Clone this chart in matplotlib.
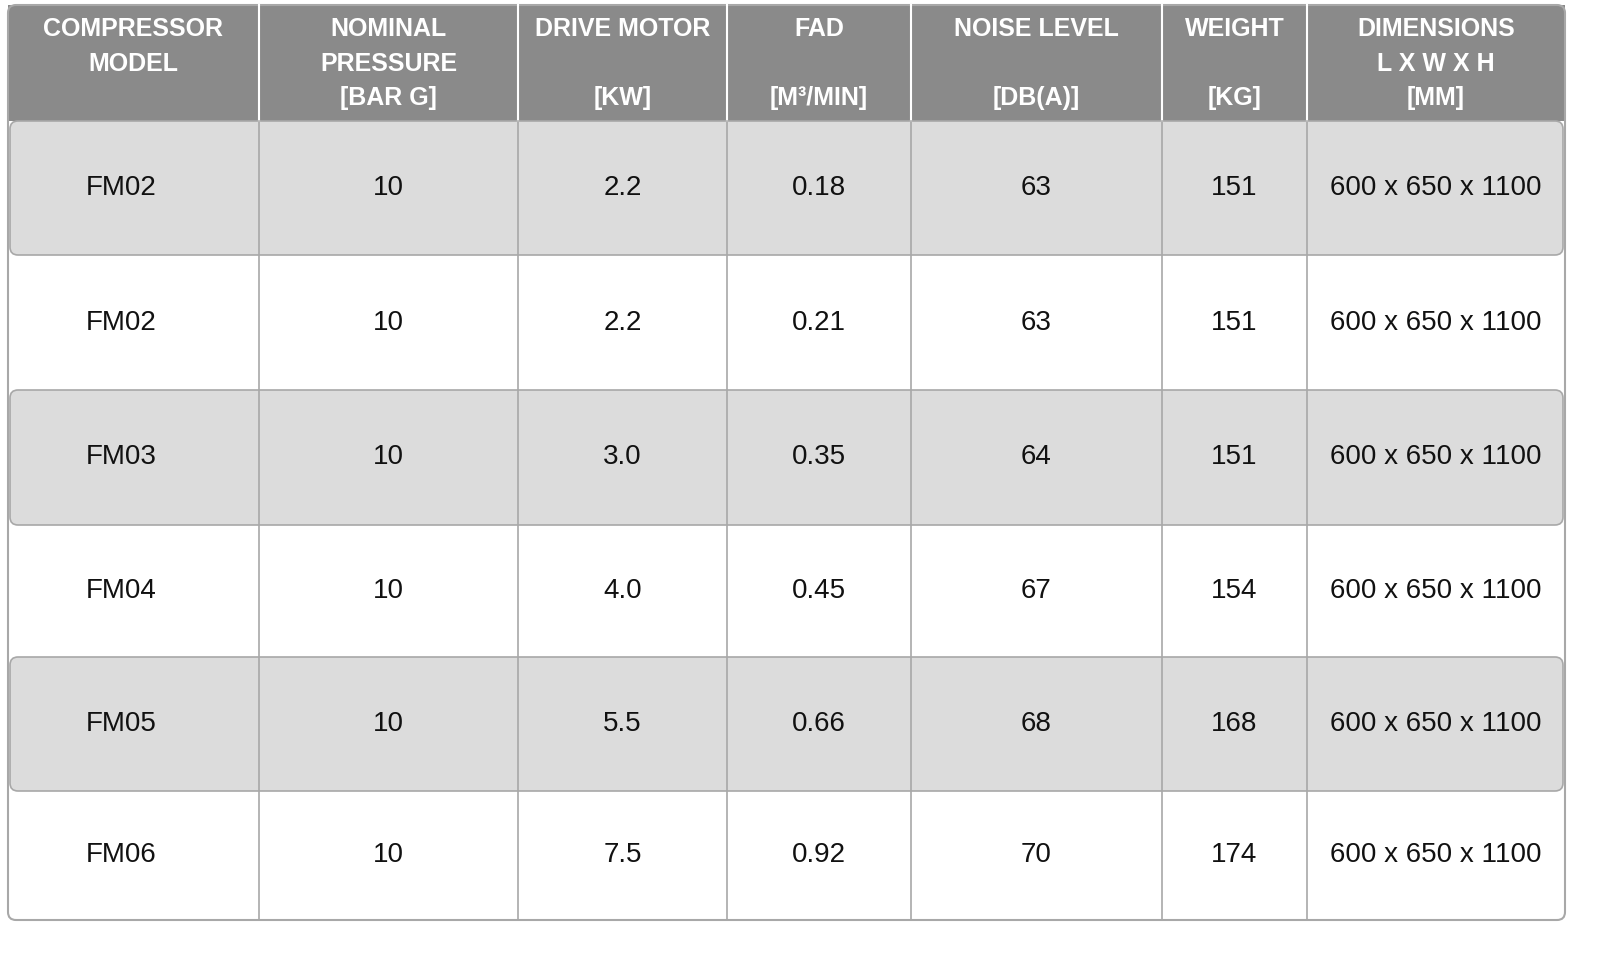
import matplotlib
matplotlib.use("Agg")
import matplotlib.pyplot as plt
from matplotlib.patches import Rectangle, FancyBboxPatch

headers = [["COMPRESSOR", "MODEL", ""],
           ["NOMINAL", "PRESSURE", "[BAR G]"],
           ["DRIVE MOTOR", "", "[KW]"],
           ["FAD", "", "[M³/MIN]"],
           ["NOISE LEVEL", "", "[DB(A)]"],
           ["WEIGHT", "", "[KG]"],
           ["DIMENSIONS", "L X W X H", "[MM]"]]
models = ["FM02", "FM02", "FM03", "FM04", "FM05", "FM06"]
pressure = ["10"] * 6
motor = ["2.2", "2.2", "3.0", "4.0", "5.5", "7.5"]
fad = ["0.18", "0.21", "0.35", "0.45", "0.66", "0.92"]
noise = ["63", "63", "64", "67", "68", "70"]
weight = ["151", "151", "151", "154", "168", "174"]
dims = ["600 x 650 x 1100"] * 6

cols = [models, pressure, motor, fad, noise, weight, dims]
xb = [8, 259, 518, 727, 911, 1162, 1307, 1565]
yb = [121, 255, 390, 525, 657, 791, 920]
head_top = 5
fam = ['Liberation Sans Narrow', 'Liberation Sans', 'DejaVu Sans']

fig = plt.figure(figsize=(16, 9.61), dpi=100)
ax = fig.add_axes([0, 0, 1, 1])
ax.set_xlim(0, 1600)
ax.set_ylim(961, 0)
ax.axis('off')

ax.add_patch(Rectangle((xb[0], head_top), xb[-1] - xb[0], yb[0] - head_top, color='#8a8a8a', lw=0))
for x in xb[1:-1]:
    ax.plot([x, x], [head_top, yb[0]], color='white', lw=1.5)
line_y = [29, 64, 98]
for c, lines in enumerate(headers):
    cx = (xb[c] + xb[c + 1]) / 2
    for i, t in enumerate(lines):
        if t:
            ax.text(cx, line_y[i], t, ha='center', va='center', color='white',
                    fontsize=18, fontweight='bold', family=fam)

for r in range(6):
    y0, y1 = yb[r], yb[r + 1]
    if r % 2 == 0:
        ax.add_patch(FancyBboxPatch((xb[0] + 2, y0), xb[-1] - xb[0] - 4, y1 - y0,
                                    boxstyle="round,pad=0,rounding_size=8",
                                    fc='#dcdcdc', ec='#a8a8a8', lw=1.2))
    for c in range(7):
        cx = (xb[c] + xb[c + 1]) / 2
        if c == 0:
            cx -= 12
        ax.text(cx, (y0 + y1) / 2, cols[c][r], ha='center', va='center',
                color='#111111', fontsize=20, family=fam)

for x in xb[1:-1]:
    ax.plot([x, x], [yb[0], yb[-1]], color='#a8a8a8', lw=1.2)
ax.add_patch(FancyBboxPatch((xb[0], head_top), xb[-1] - xb[0], yb[-1] - head_top,
                            boxstyle="round,pad=0,rounding_size=8",
                            fc='none', ec='#a8a8a8', lw=1.5))

fig.savefig("out.png", dpi=100)
